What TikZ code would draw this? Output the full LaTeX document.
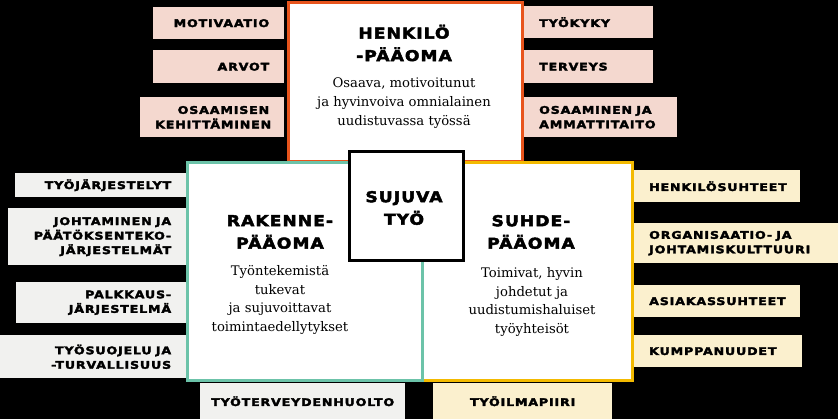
\documentclass[tikz,border=0pt]{standalone}
\usepackage{fontspec}
\setmainfont{DejaVu Serif}
\newfontfamily\capsfont{DejaVu Sans}[LetterSpace=8, FakeStretch=1.2, FakeBold=3]
\newfontfamily\headfont{DejaVu Sans}[LetterSpace=7, FakeStretch=1.15, FakeBold=3]
\newcommand{\wgap}{\nobreak\hspace{0.4em}}

\definecolor{hkorange}{HTML}{E8541C}
\definecolor{rkteal}{HTML}{6CC3A9}
\definecolor{shyellow}{HTML}{F3BA00}
\definecolor{hkpink}{HTML}{F4D8CF}
\definecolor{rkgrey}{HTML}{F1F1EF}
\definecolor{shcream}{HTML}{FBF0CE}

\begin{document}
\begin{tikzpicture}[%
        x = 1pt,
        y = -1pt,
        factor/.style = {%
            anchor = north west,
            inner ysep = 0pt,
            font = \capsfont\bfseries\fontsize{10.5}{14.5}\selectfont
        },
        leftside/.style = {factor, align = right, inner xsep = 15pt},
        rightside/.style = {factor, align = left, inner xsep = 18pt},
        midside/.style = {factor, align = center, inner xsep = 0pt},
        capital/.style = {%
            anchor = north west,
            line width = 3pt,
            fill = white,
            inner sep = 0pt
        },
        heading/.style = {%
            align = center,
            font = \headfont\bfseries\fontsize{14.9}{22.5}\selectfont
        },
        body/.style = {%
            align = center,
            font = \fontsize{13.2}{18.8}\selectfont
        }
    ]

        % Black page with the size of the reference.
        \fill[black] (0, 0) rectangle (838, 419);
        \useasboundingbox (0, 0) rectangle (838, 419);

        % Factors of the personal capital.
        \begin{scope}[every node/.append style = {fill = hkpink}]
            \node[leftside, text width = 101pt, minimum height = 32pt] (motivaatio) at (153, 7) {MOTIVAATIO};
            \node[leftside, text width = 101pt, minimum height = 33pt] (arvot) at (153, 50) {ARVOT};
            \node[leftside, text width = 114pt, minimum height = 40pt] (kehittaminen) at (140, 97) {OSAAMISEN\\KEHITTÄMINEN};
            \node[rightside, text width = 96pt, minimum height = 32pt] (tyokyky) at (521, 6) {TYÖKYKY};
            \node[rightside, text width = 96pt, minimum height = 33pt] (terveys) at (521, 50) {TERVEYS};
            \node[rightside, text width = 120pt, minimum height = 40pt] (ammattitaito) at (521, 97) {OSAAMINEN\wgap JA\\AMMATTITAITO};
        \end{scope}

        % Factors of the structural capital.
        \begin{scope}[every node/.append style = {fill = rkgrey}]
            \node[leftside, text width = 141pt, minimum height = 24pt] (tyojarjestelyt) at (15, 173) {TYÖJÄRJESTELYT};
            \node[leftside, text width = 148pt, minimum height = 57pt] (johtaminen) at (8, 208) {JOHTAMINEN\wgap JA\\PÄÄTÖKSENTEKO-\\JÄRJESTELMÄT};
            \node[leftside, text width = 140pt, minimum height = 41pt] (palkkaus) at (16, 282) {PALKKAUS-\\JÄRJESTELMÄ};
            \node[leftside, text width = 156pt, minimum height = 43pt] (tyosuojelu) at (0, 335) {TYÖSUOJELU\wgap JA\\-TURVALLISUUS};
            \node[midside, minimum width = 205pt, minimum height = 36pt] (tyoterveys) at (200, 383) {TYÖTERVEYDENHUOLTO};
        \end{scope}

        % Factors of the relational capital.
        \begin{scope}[every node/.append style = {fill = shcream}]
            \node[rightside, text width = 133pt, minimum height = 32pt] (henkilosuhteet) at (631, 170) {HENKILÖSUHTEET};
            \node[rightside, text width = 171pt, minimum height = 40pt] (kulttuuri) at (631, 223) {ORGANISAATIO-\wgap JA\\JOHTAMISKULTTUURI};
            \node[rightside, text width = 133pt, minimum height = 32pt] (asiakassuhteet) at (631, 285) {ASIAKASSUHTEET};
            \node[rightside, text width = 135pt, minimum height = 32pt] (kumppanuudet) at (631, 335) {KUMPPANUUDET};
            \node[midside, minimum width = 179pt, minimum height = 36pt] (tyoilmapiiri) at (433, 383) {TYÖILMAPIIRI};
        \end{scope}

        % The three capitals and the centre.
        \node[capital, draw = hkorange, minimum width = 234pt, minimum height = 159pt] (henkilo) at (287, 1.5) {};
        \node[capital, draw = shyellow, minimum width = 210pt, minimum height = 218pt] (suhde) at (421, 161) {};
        \node[capital, draw = rkteal, minimum width = 235pt, minimum height = 218pt] (rakenne) at (185.5, 161) {};
        \node[capital, draw = black, minimum width = 114pt, minimum height = 109pt] (sujuva) at (347.5, 150.5) {};

        % Headings.
        \node[heading] (henkilohead) at (404, 43) {HENKILÖ\\-PÄÄOMA};
        \node[heading] (rakennehead) at (280, 232) {RAKENNE-\\PÄÄOMA};
        \node[heading] (suhdehead) at (531, 232) {SUHDE-\\PÄÄOMA};
        \node[heading] (sujuvahead) at (404, 208) {SUJUVA\\TYÖ};

        % Descriptions.
        \node[body] (henkilotext) at (404, 103) {Osaava, motivoitunut\\ja hyvinvoiva omnialainen\\uudistuvassa työssä};
        \node[body] (rakennetext) at (280, 300) {Työntekemistä\\tukevat\\ja sujuvoittavat\\toimintaedellytykset};
        \node[body] (suhdetext) at (532, 302) {Toimivat, hyvin\\johdetut ja\\uudistumishaluiset\\työyhteisöt};

    \end{tikzpicture}
\end{document}
